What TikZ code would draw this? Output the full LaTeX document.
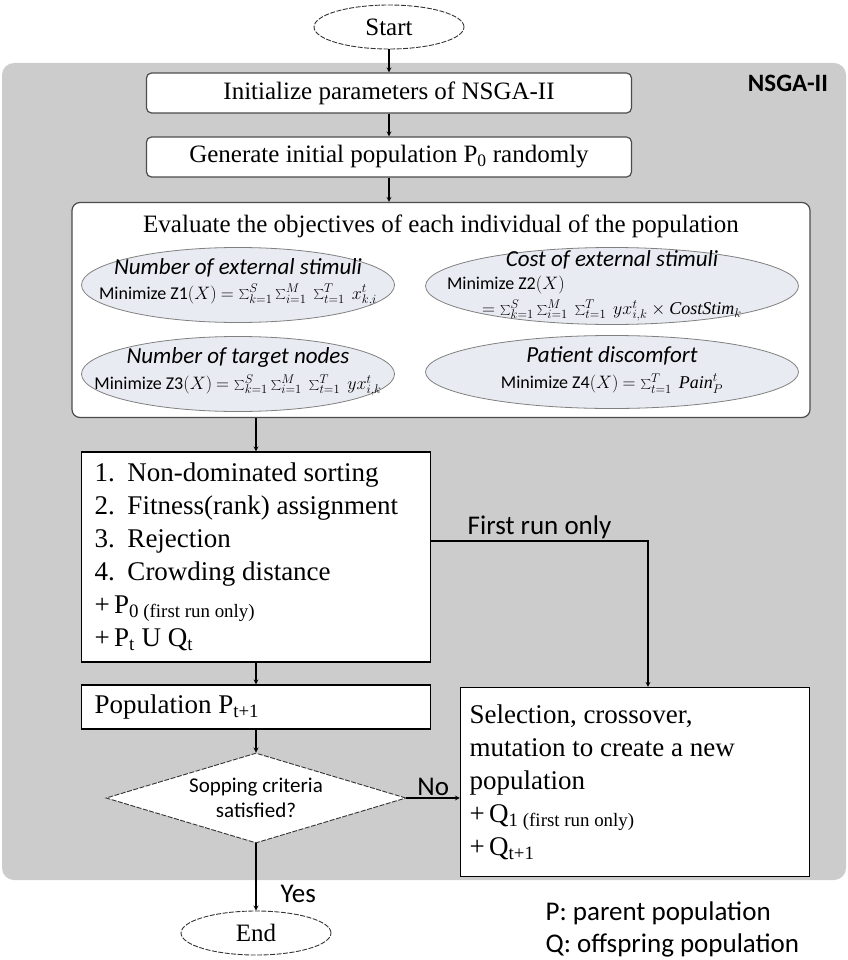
\RequirePackage{fix-cm}
\documentclass[tikz,border=0pt]{standalone}
\usepackage{fontspec}
\setmainfont{Liberation Serif}
\newfontfamily\carlito{Carlito}
\usetikzlibrary{shapes.geometric}

\definecolor{bggray}{RGB}{204,204,204}
\definecolor{objfill}{RGB}{233,235,242}
\definecolor{objline}{RGB}{128,128,128}

\newcommand{\objtitle}[1]{{\itshape\fontsize{23}{27}\selectfont #1}}

\begin{document}
\begin{tikzpicture}[x=1pt,y=-1pt,>=stealth,line width=1.2pt,node distance=64pt,
    every node/.style={font=\fontsize{25}{30}\selectfont},
    term/.style={ellipse,draw=black!80,line width=0.9pt,dash pattern=on 5pt off 1.5pt,fill=white,
        minimum width=150pt,minimum height=44pt,inner sep=0pt},
    roundbox/.style={draw=black!70,fill=white,rounded corners=5pt,minimum width=485pt,minimum height=40pt},
    evalbox/.style={draw=black!70,fill=white,rounded corners=8pt,minimum width=738pt,minimum height=215pt},
    listbox/.style={draw=black,fill=white,align=flush left,text width=323pt,inner xsep=13pt,
        font=\fontsize{27}{33}\selectfont},
    objective/.style={ellipse,draw=objline,fill=objfill,line width=0.8pt,inner sep=0pt},
    objtext/.style={align=center,font=\carlito\fontsize{18}{22}\selectfont},
    decision/.style={diamond,draw=black!80,line width=0.9pt,dash pattern=on 5pt off 1.5pt,fill=white,
        minimum width=300pt,minimum height=90pt,inner sep=0pt},
    side/.style={font=\carlito\fontsize{27}{32}\selectfont,inner sep=2pt}]
    \useasboundingbox (0,0) rectangle (847,960);

    % grey NSGA-II frame
    \fill[bggray,rounded corners=12pt] (2,63) rectangle (846,880);
    \node[font=\carlito\bfseries\fontsize{25}{30}\selectfont] (tag) at (788,83) {NSGA-II};

    \node[term] (start) at (389,27) {Start};
    \node[roundbox] (init) [below of=start, node distance=66pt] {Initialize parameters of NSGA-II};
    \node[roundbox] (gen) [below of=init] {Generate initial population P\textsubscript{0} randomly};

    \node[evalbox,label={[anchor=north,yshift=-9pt]north:Evaluate the objectives of each individual of the population}]
        (eval) at (441,310) {};
    \node[objective,minimum width=313pt,minimum height=75pt,
        label={[objtext,yshift=3pt]center:{\objtitle{Number of external stimuli}\\[3pt]
        Minimize Z1$(X)$ $=\sum_{k=1}^{S}\sum_{i=1}^{M}\ \sum_{t=1}^{T}\ x_{k,i}^{t}$}}]
        (obj1) at (238,285) {};
    \node[objective,minimum width=373pt,minimum height=77pt,
        label={[objtext]center:{\objtitle{Cost of external stimuli}\\[1pt]
        \makebox[330pt][l]{Minimize Z2$(X)$}\\[3pt]
        $=\sum_{k=1}^{S}\sum_{i=1}^{M}\ \sum_{t=1}^{T}\ yx_{i,k}^{t}\times \mathit{CostStim}_{k}$}}]
        (obj2) at (612,286) {};
    \node[objective,minimum width=313pt,minimum height=75pt,
        label={[objtext,yshift=2pt]center:{\objtitle{Number of target nodes}\\[4pt]
        Minimize Z3$(X)$ $=\sum_{k=1}^{S}\sum_{i=1}^{M}\ \sum_{t=1}^{T}\ yx_{i,k}^{t}$}}]
        (obj3) at (238,374) {};
    \node[objective,minimum width=373pt,minimum height=73pt,
        label={[objtext,yshift=2pt]center:{\objtitle{Patient discomfort}\\[4pt]
        Minimize Z4$(X)$ $=\sum_{t=1}^{T}\ \mathit{Pain}_{P}^{t}$}}]
        (obj4) at (612,372) {};

    \node[listbox,minimum height=210pt] (sort) at (256,557) {%
        \makebox[33pt][l]{1.}Non-dominated sorting\\
        \makebox[33pt][l]{2.}Fitness(rank) assignment\\
        \makebox[33pt][l]{3.}Rejection\\
        \makebox[33pt][l]{4.}Crowding distance\\
        +\,P\textsubscript{0 (first run only)}\\
        +\,P\textsubscript{t} U Q\textsubscript{t}};
    \node[listbox,minimum height=44pt] (pop) [below of=sort, node distance=150pt] {Population P\textsubscript{t+1}};
    \node[decision,label={[objtext,font=\carlito\fontsize{21}{25}\selectfont]center:{Sopping criteria\\satisfied?}}]
        (test) [below of=pop, node distance=91pt] {};
    \node[term] (end) [below of=test, node distance=135pt] {End};
    \node[listbox,text width=331pt,inner xsep=9pt,minimum height=189pt] (sel) at (635,782) {%
        Selection, crossover,\\
        mutation to create a new\\
        population\\
        +\,Q\textsubscript{1 (first run only)}\\
        +\,Q\textsubscript{t+1}};

    \node[side,anchor=west] (legp) at (543,913) {P: parent population};
    \node[side,anchor=west] (legq) at (543,945) {Q: offspring population};

    \coordinate (turn) at (648,541);

    \path[->] (start) edge (init)
              (init) edge (gen)
              (sort) edge (pop)
              (pop) edge (test)
              (test) edge node[side,pos=0.75,right=22pt] {Yes} (end)
              (test) edge node[side,above] {No} (sel.west |- test);
    \draw[->] (gen) -- (gen |- eval.north);
    \draw[->] (sort |- eval.south) -- (sort);
    \draw[->] (sort.east |- turn) -- node[side,above] {First run only} (turn) -- (turn |- sel.north);
\end{tikzpicture}
\end{document}
